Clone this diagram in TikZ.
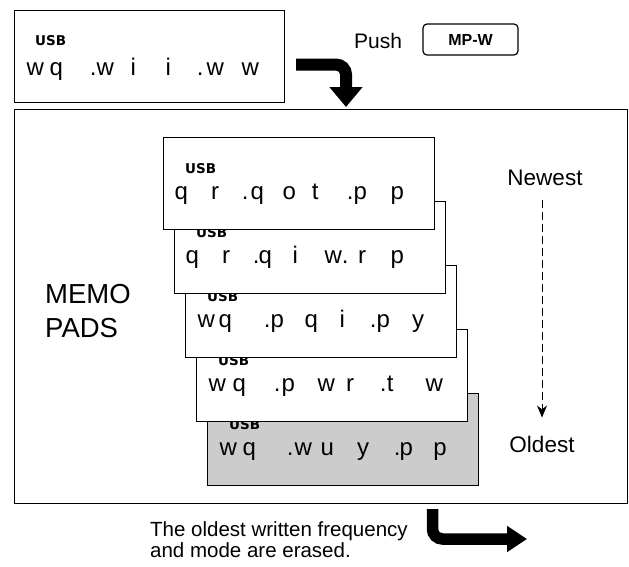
\documentclass[tikz,border=0pt]{standalone}
\usepackage{fontspec}
\setmainfont{Liberation Sans}
\newfontfamily\usbfont{DejaVu Sans}
\usetikzlibrary{arrows.meta,calc}
\newcommand\cc[2]{\rlap{\hspace*{#1pt}\makebox[0pt]{#2}}}
\newcommand\dispfont{\fontsize{24}{28}\selectfont}
\newcommand\usbtext{{\usbfont\bfseries\fontsize{13.5}{14}\selectfont USB}}
\tikzset{
  box/.style={draw, line width=1.1pt, inner sep=0pt},
  cardbox/.style={box, minimum width=271pt, minimum height=92pt},
  usb/.style={anchor=base west, inner sep=0pt},
  digits/.style={anchor=base west, inner sep=0pt, font=\dispfont},
  label/.style={inner sep=0pt},
  bigarrow/.style={line width=12pt, rounded corners=10pt, -{Triangle[width=32pt,length=20pt]}},
  smallarrow/.style={line width=11.5pt, rounded corners=10pt, -{Triangle[width=25pt,length=20pt]}},
  flow/.style={line width=0.9pt, dash pattern=on 8pt off 4pt, -{Stealth[length=12pt,width=10pt]}}
}
\newcommand\memocard[5]{%
  \node[cardbox, fill=#4, anchor=north west] (#1) at (#2,#3) {};
  \node[usb] (#1u) at ($(#1.north west)+(22,36)$) {\usbtext};
  \node[digits] (#1d) at ($(#1.north west)+(0,62)$) {#5\hspace*{240pt}};
}
\begin{document}
\begin{tikzpicture}[x=1pt,y=-1pt]
\useasboundingbox (0,0) rectangle (629,566);
% top display
\node[cardbox, fill=white, minimum width=270pt, anchor=north west] (top) at (14,10) {};
\node[usb] (topu) at ($(top.north west)+(21,35)$) {\usbtext};
\node[digits] (topd) at ($(top.north west)+(0,65)$)
  {\cc{21}{w}\cc{42}{q}\cc{79}{.}\cc{91}{w}\cc{119}{i}\cc{154}{i}\cc{186}{.}\cc{201}{w}\cc{236}{w}\hspace*{240pt}};
% push label
\node[label, anchor=base west, font=\fontsize{21}{24}\selectfont] (push) at (354,48) {Push};
\node[draw, line width=1.2pt, rounded corners=4pt, minimum width=95pt, minimum height=31pt, inner sep=0pt,
      font=\bfseries\fontsize{16}{18}\selectfont] (mpw) at (470.5,39.5) {MP-W};
% main box
\node[box, minimum width=613pt, minimum height=394pt, anchor=north west] (main) at (14,109) {};
% arrow from top box into main box
\coordinate (a1s) at ($(top.east)+(11,8)$);
\coordinate (a1e) at ($(main.north west)+(332,-2)$);
\draw[bigarrow] (a1s) -| (a1e);
% memo label (base anchor = last line)
\node[label, anchor=base west, align=left, font=\fontsize{27.5}{34}\selectfont] (memo) at (45,337) {MEMO\\PADS};
% cards (bottom first)
\memocard{c5}{207}{393}{gray!40}{\cc{21}{w}\cc{42}{q}\cc{83}{.}\cc{96}{w}\cc{120}{u}\cc{156}{y}\cc{190}{.}\cc{199}{p}\cc{233}{p}}
\memocard{c4}{196}{329}{white}{\cc{21}{w}\cc{43}{q}\cc{81}{.}\cc{92}{p}\cc{130}{w}\cc{154}{r}\cc{187}{.}\cc{194}{t}\cc{238}{w}}
\memocard{c3}{185}{265}{white}{\cc{21}{w}\cc{40}{q}\cc{82}{.}\cc{92}{p}\cc{126}{q}\cc{157}{i}\cc{188}{.}\cc{198}{p}\cc{233}{y}}
\memocard{c2}{174}{201}{white}{\cc{18}{q}\cc{52}{r}\cc{82}{.}\cc{91}{q}\cc{121}{i}\cc{159}{w}\cc{171}{.}\cc{188}{r}\cc{223}{p}}
\memocard{c1}{163}{137}{white}{\cc{18}{q}\cc{52}{r}\cc{82}{.}\cc{94}{q}\cc{126}{o}\cc{152}{t}\cc{187}{.}\cc{197}{p}\cc{234}{p}}
% newest / oldest
\node[label, anchor=base, font=\fontsize{22.5}{26}\selectfont] (new) at (545,185) {Newest};
\node[label, anchor=base, font=\fontsize{22.5}{26}\selectfont] (old) at (542,452) {Oldest};
\draw[flow, shorten <=15pt, shorten >=18pt] (old.north |- new.south) -- (old.north);
% bottom note and arrow (base anchor = last line)
\node[label, anchor=base west, align=left, font=\fontsize{20.5}{21}\selectfont] (note) at (150,557)
  {The oldest written frequency\\and mode are erased.};
\coordinate (b1s) at ($(main.south west)+(418.5,5)$);
\coordinate (b1e) at (527,539);
\draw[smallarrow] (b1s) |- (b1e);
\end{tikzpicture}
\end{document}
